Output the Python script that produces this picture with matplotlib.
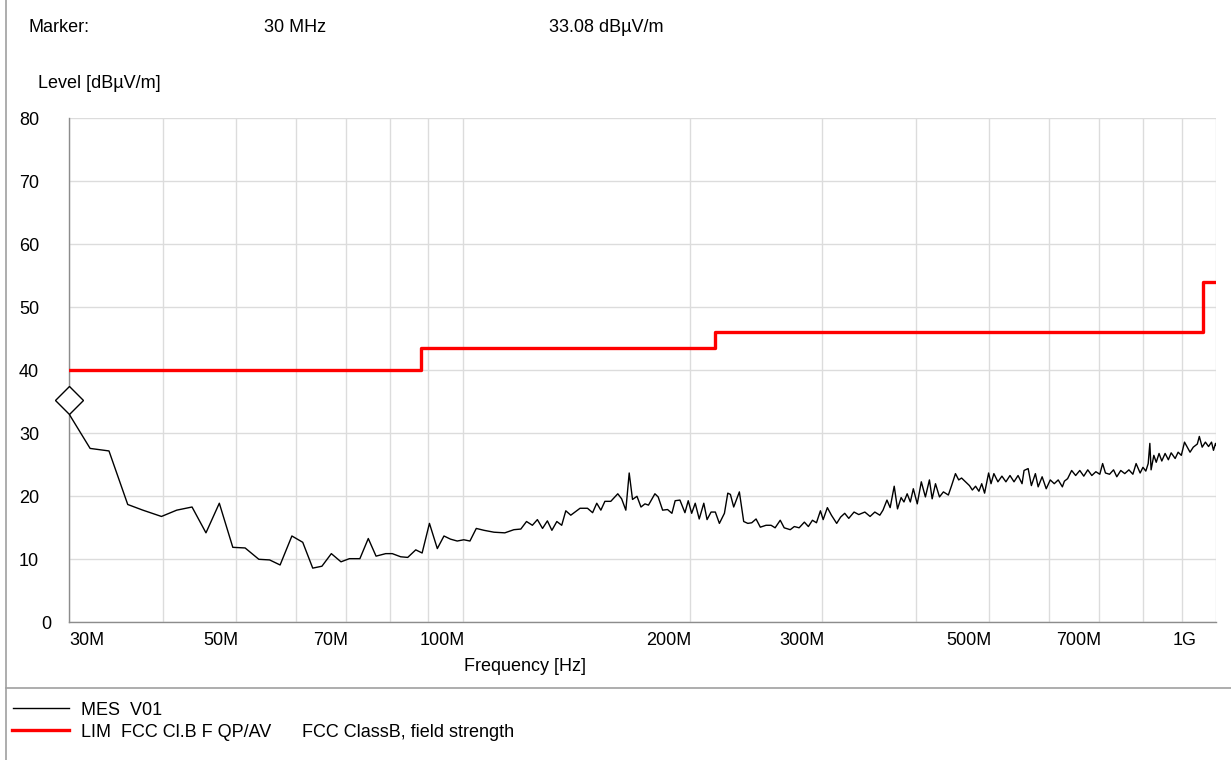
import matplotlib
matplotlib.use("Agg")
import matplotlib.pyplot as plt
import matplotlib.transforms as mtransforms
from matplotlib.lines import Line2D
import numpy as np

plt.rcParams['font.family'] = ['Liberation Sans', 'DejaVu Sans']

# ---------------- data ----------------
mes_freq_mhz = [
    30.0, 32.0, 33.9, 35.9, 37.6, 39.8, 41.7, 43.7, 45.6, 47.5,
    49.5, 51.4, 53.6, 55.4, 57.2, 59.3, 61.3, 63.2, 65.0, 66.9,
    68.9, 70.7, 73.0, 74.9, 76.7, 79.0, 80.6, 82.7, 84.5, 86.6,
    88.3, 90.3, 92.5, 94.4, 96.3, 98.3, 100.3, 102.2, 104.2, 106.7,
    110.0, 113.7, 116.9, 119.4, 121.5, 123.7, 125.6, 127.6, 129.5, 131.3,
    133.3, 135.3, 137.0, 139.1, 143.1, 146.4, 148.7, 150.6, 152.5, 154.4,
    157.2, 160.6, 162.5, 164.6, 166.3, 168.0, 170.3, 172.4, 174.5, 176.4,
    179.9, 181.7, 184.2, 187.0, 189.5, 191.4, 194.2, 197.2, 199.2, 201.3,
    203.5, 206.0, 208.9, 211.0, 213.6, 216.4, 219.1, 222.5, 224.8, 226.6,
    228.9, 232.9, 236.0, 239.0, 241.9, 245.1, 248.3, 252.7, 256.6, 259.8,
    263.9, 267.1, 272.1, 275.5, 279.6, 284.1, 287.6, 291.2, 294.8, 298.4,
    300.9, 304.8, 308.6, 313.6, 317.4, 321.4, 325.4, 330.7, 335.5, 341.8,
    347.3, 352.4, 357.8, 361.3, 365.7, 369.3, 373.9, 377.7, 381.9, 385.2,
    389.0, 392.8, 396.4, 401.2, 406.2, 411.3, 416.4, 419.9, 424.2, 429.4,
    434.6, 441.2, 445.6, 450.9, 455.4, 459.4, 465.0, 470.6, 474.8, 479.5,
    484.4, 488.6, 492.9, 499.0, 502.7, 507.1, 513.4, 519.7, 526.1, 532.7,
    539.3, 546.0, 552.7, 556.1, 563.1, 568.7, 575.7, 580.6, 587.7, 595.1,
    602.5, 609.9, 617.3, 625.2, 629.1, 635.3, 643.2, 651.1, 659.4, 667.5,
    675.7, 684.1, 692.6, 701.0, 707.1, 713.2, 722.2, 731.1, 738.4, 747.4,
    756.6, 766.2, 775.6, 783.3, 793.0, 799.9, 806.9, 812.8, 816.9, 820.0,
    826.9, 833.0, 840.2, 847.3, 855.9, 864.5, 871.9, 882.6, 890.7, 899.4,
    908.2, 915.9, 923.7, 932.9, 944.5, 950.3, 958.6, 968.1, 977.5, 986.4,
    992.3, 998.6, 1000.0,
]
mes_level = [
    33.08, 27.6, 27.2, 18.7, 17.8, 16.8, 17.8, 18.3, 14.2, 18.9,
    11.9, 11.8, 10.0, 9.9, 9.1, 13.7, 12.7, 8.6, 8.9, 10.9,
    9.6, 10.1, 10.1, 13.3, 10.5, 10.9, 10.9, 10.4, 10.3, 11.5,
    11.0, 15.7, 11.7, 13.7, 13.2, 12.9, 13.1, 12.9, 14.9, 14.6,
    14.3, 14.2, 14.7, 14.8, 16.0, 15.4, 16.3, 14.9, 16.1, 14.6,
    16.0, 15.4, 17.7, 17.0, 18.1, 18.1, 17.4, 18.9, 17.8, 19.2,
    19.2, 20.4, 19.6, 17.8, 23.7, 19.5, 20.0, 18.3, 18.8, 18.6,
    20.4, 19.9, 17.8, 17.9, 17.3, 19.3, 19.4, 17.4, 19.3, 17.3,
    18.9, 16.4, 18.9, 16.3, 17.5, 17.5, 15.7, 17.3, 20.5, 20.3,
    18.3, 20.7, 16.0, 15.7, 15.8, 16.4, 15.1, 15.4, 15.4, 15.0,
    16.2, 15.0, 14.7, 15.2, 15.0, 15.9, 15.2, 16.2, 15.8, 17.7,
    16.3, 18.2, 17.0, 15.7, 16.7, 17.3, 16.5, 17.5, 17.1, 17.5,
    16.8, 17.5, 17.0, 17.8, 19.4, 18.2, 21.6, 18.0, 19.8, 19.1,
    20.4, 19.1, 21.2, 18.8, 22.3, 19.9, 22.6, 19.6, 22.0, 19.9,
    20.7, 20.2, 21.7, 23.6, 22.6, 22.9, 22.3, 21.7, 21.0, 21.6,
    20.8, 22.0, 20.5, 23.7, 22.0, 23.6, 22.3, 23.2, 22.3, 23.3,
    22.3, 23.3, 22.0, 24.1, 24.4, 21.7, 23.6, 21.5, 23.1, 21.2,
    22.6, 22.0, 22.6, 21.5, 22.4, 22.8, 24.1, 23.3, 24.1, 23.2,
    24.2, 23.3, 23.9, 23.5, 25.2, 23.7, 23.5, 24.2, 23.1, 24.1,
    23.6, 24.2, 23.5, 25.2, 23.7, 24.6, 24.0, 25.2, 28.4, 24.2,
    26.5, 25.4, 26.8, 25.6, 26.8, 25.8, 26.9, 26.0, 27.0, 26.5,
    28.6, 27.8, 27.0, 27.8, 28.3, 29.5, 27.8, 28.6, 27.9, 28.6,
    27.3, 28.4, 28.1,
]

lim_freq_mhz = [30, 88, 216, 960, 1000]
lim_level = [40, 43.5, 46, 54, 54]

marker_freq_mhz = 30
marker_level = 33.08

grid_freq_mhz = [30, 40, 50, 60, 70, 80, 90, 100, 200, 300, 400, 500,
                 600, 700, 800, 900, 1000]
xtick_freq_mhz = [30, 50, 70, 100, 200, 300, 500, 700, 1000]
xtick_labels = ['30M', '50M', '70M', '100M', '200M', '300M', '500M', '700M', '1G']
ytick_values = [0, 10, 20, 30, 40, 50, 60, 70, 80]

# ---------------- figure ----------------
W, H = 1231, 760
fig = plt.figure(figsize=(W / 100, H / 100), dpi=100)
ax_l, ax_r, ax_t, ax_b = 69, 1216, 118.3, 622.3
ax = fig.add_axes([ax_l / W, 1 - ax_b / H, (ax_r - ax_l) / W, (ax_b - ax_t) / H])
ax.set_xscale('log')
ax.set_xlim(30e6, 1e9)
ax.set_ylim(0, 80)

ax.set_xticks([f * 1e6 for f in grid_freq_mhz])
ax.xaxis.set_minor_locator(matplotlib.ticker.NullLocator())
ax.set_yticks(ytick_values)
ax.set_xticklabels([])
ax.set_yticklabels([])
ax.tick_params(length=0)
ax.grid(True, color='#dcdcdc', lw=1.0)
ax.set_axisbelow(True)
for s in ['top', 'right']:
    ax.spines[s].set_visible(False)
for s in ['left', 'bottom']:
    ax.spines[s].set_color('#8c8c8c')
    ax.spines[s].set_linewidth(1.0)

FS = 13
# limit line
ax.plot(np.array(lim_freq_mhz) * 1e6, lim_level, drawstyle='steps-post',
        color='#ff0000', lw=2.4, zorder=3)
# measurement
ax.plot(np.array(mes_freq_mhz) * 1e6, mes_level, color='black', lw=1.0, zorder=4)
# marker diamond (bottom vertex on the data point)
off = mtransforms.offset_copy(ax.transData, fig=fig, x=0, y=14, units='dots')
ax.plot([marker_freq_mhz * 1e6], [marker_level], marker='D', ms=14, mfc='white',
        mec='black', mew=1.0, transform=off, clip_on=False, zorder=5, ls='none')

# x tick labels
for f, lab in zip(xtick_freq_mhz, xtick_labels):
    if lab == '30M':
        dx, ha = 0, 'left'
    elif lab == '1G':
        dx, ha = -19, 'right'
    else:
        dx, ha = 2, 'right'
    tr = mtransforms.offset_copy(ax.get_xaxis_transform(), fig=fig, x=dx, y=0, units='dots')
    ax.text(f * 1e6, 1 - (645 - ax_t) / (ax_b - ax_t), lab, transform=tr,
            ha=ha, va='baseline', fontsize=FS)

# y tick labels
for v in ytick_values:
    xr = 51 if v == 0 else 39
    tr = mtransforms.offset_copy(ax.get_yaxis_transform(), fig=fig, x=0, y=-6.7, units='dots')
    ax.text((xr - ax_l) / (ax_r - ax_l), v, str(v), transform=tr,
            ha='right', va='baseline', fontsize=FS)

def ftext(x, y, s, **kw):
    fig.text(x / W, 1 - y / H, s, fontsize=FS, va='baseline', **kw)

ftext(28, 32, 'Marker:')
ftext(264, 32, '30 MHz')
ftext(549, 32, '33.08 dBµV/m')
ftext(38, 88, 'Level [dBµV/m]')
ftext(464, 671, 'Frequency [Hz]')

# frame lines
fig.add_artist(Line2D([6 / W, 6 / W], [0, 1], transform=fig.transFigure,
                      color='#a0a0a0', lw=1.2))
fig.add_artist(Line2D([6 / W, 1], [1 - 687.5 / H] * 2, transform=fig.transFigure,
                      color='#a0a0a0', lw=1.2))

# legend
fig.add_artist(Line2D([13.5 / W, 68.5 / W], [1 - 708 / H] * 2, transform=fig.transFigure,
                      color='black', lw=1.0))
fig.add_artist(Line2D([12 / W, 69 / W], [1 - 730 / H] * 2, transform=fig.transFigure,
                      color='#ff0000', lw=2.4))
ftext(81, 715, 'MES  V01')
ftext(81, 737, 'LIM  FCC Cl.B F QP/AV')
ftext(302, 737, 'FCC ClassB, field strength')

fig.savefig('out.png', dpi=100, facecolor='white')
